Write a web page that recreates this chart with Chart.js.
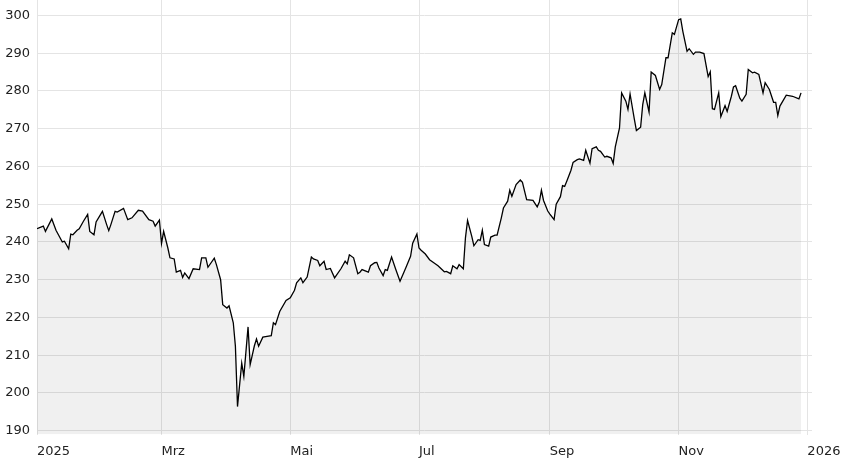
<!DOCTYPE html>
<html>
<head>
<meta charset="utf-8">
<script src="https://cdn.jsdelivr.net/npm/chart.js@4/dist/chart.umd.min.js"></script>
<style>
  html, body { margin: 0; padding: 0; background: #fff; }
  #wrap { width: 848px; height: 460px; }
</style>
</head>
<body>
<div id="wrap"><canvas id="myChart" width="848" height="460"></canvas></div>
<script>
// day of year 2025 (0 = 1. Jan) for each close
const days = [
  0, 3, 4, 7, 9, 12, 13, 15, 16, 17, 19, 20, 22, 24, 25, 27, 28, 31, 33, 34,
  35, 37, 38, 41, 43, 45, 48, 50, 53, 55, 56, 58, 59, 60, 62, 63, 65, 66, 68, 69,
  70, 72, 74, 77, 78, 80, 81, 84, 85, 87, 88, 90, 91, 93, 94, 95, 97, 98, 100, 101,
  103, 104, 105, 107, 109, 111, 112, 113, 115, 118, 120, 122, 123, 125, 126, 128, 130, 131, 133, 134,
  136, 137, 139, 141, 144, 146, 147, 148, 150, 152, 153, 154, 157, 158, 160, 161, 162, 164, 165, 166,
  168, 170, 172, 174, 175, 177, 178, 180, 181, 182, 184, 186, 188, 190, 193, 194, 196, 197, 199, 200,
  202, 203, 204, 206, 207, 209, 210, 211, 212, 214, 215, 217, 218, 220, 221, 223, 224, 225, 227, 229,
  230, 232, 235, 237, 238, 239, 240, 242, 243, 245, 246, 248, 249, 250, 251, 253, 254, 256, 257, 259,
  260, 262, 263, 265, 266, 267, 269, 270, 272, 273, 274, 276, 277, 279, 280, 281, 283, 284, 286, 287,
  288, 290, 291, 293, 295, 296, 298, 299, 301, 302, 304, 305, 306, 308, 309, 311, 312, 314, 316, 318,
  319, 320, 321, 323, 324, 326, 327, 329, 330, 331, 333, 334, 336, 337, 339, 340, 342, 344, 345, 347,
  349, 350, 351, 352, 355, 358, 361, 362
]

const closes = [
  243.5, 244.2, 242.8, 246.1, 243.1, 240.0, 240.2, 238.2, 242.1, 241.9, 243.1, 243.5, 245.5, 247.3, 242.8, 241.9, 245.3, 248.1, 244.6, 243.0,
  244.6, 248.1, 247.9, 248.9, 245.9, 246.4, 248.4, 248.2, 245.9, 245.5, 244.2, 245.8, 239.6, 242.8, 238.4, 235.8, 235.5, 232.0, 232.5, 230.6,
  231.8, 230.3, 232.9, 232.7, 235.8, 235.8, 233.3, 235.7, 234.0, 230.0, 223.4, 222.5, 223.1, 218.6, 212.4, 196.4, 207.9, 204.4, 217.5, 207.5,
  212.5, 214.3, 212.4, 214.8, 215.0, 215.2, 218.6, 218.1, 221.6, 224.5, 225.2, 227.2, 229.2, 230.5, 229.2, 230.7, 236.0, 235.5, 235.1, 233.7,
  234.9, 232.7, 233.0, 230.5, 232.9, 234.9, 234.2, 236.6, 235.8, 231.6, 232.0, 232.7, 232.0, 233.7, 234.5, 234.6, 233.1, 231.1, 232.7, 232.5,
  236.0, 232.7, 229.6, 232.2, 233.5, 236.2, 239.7, 242.1, 238.4, 237.8, 236.8, 235.3, 234.5, 233.7, 232.1, 232.2, 231.6, 233.7, 232.9, 234.0,
  232.9, 241.1, 245.7, 241.5, 239.0, 240.6, 240.4, 243.1, 239.3, 238.9, 241.3, 241.8, 241.8, 246.4, 249.0, 250.8, 253.7, 252.1, 255.2, 256.4,
  255.8, 251.2, 251.0, 249.3, 250.6, 253.7, 251.0, 248.2, 247.4, 245.9, 250.0, 252.0, 254.9, 254.7, 256.1, 259.0, 261.1, 261.8, 262.0, 261.6,
  264.3, 260.9, 264.7, 265.2, 264.3, 264.0, 262.5, 262.7, 262.3, 260.8, 265.2, 270.2, 279.5, 277.3, 275.1, 279.2, 272.6, 269.5, 270.4, 276.4,
  279.5, 274.4, 285.0, 284.1, 280.4, 281.7, 288.8, 288.8, 295.4, 295.0, 298.9, 299.1, 295.8, 290.5, 291.2, 289.7, 290.3, 290.3, 289.9, 283.8,
  285.1, 275.3, 275.1, 279.5, 273.2, 276.1, 274.6, 278.6, 281.1, 281.4, 278.1, 277.3, 279.1, 285.7, 284.8, 285.0, 284.4, 279.5, 282.2, 280.4,
  277.0, 277.0, 273.5, 276.0, 278.9, 278.6, 277.9, 279.5
]

// month starts (day of year) and their labels
const monthTicks = [0, 59, 120, 181, 243, 304, 365]
const monthLabels = ['2025', 'Mrz', 'Mai', 'Jul', 'Sep', 'Nov', '2026']

const yTicks = [190, 200, 210, 220, 230, 240, 250, 260, 270, 280, 290, 300]

Chart.defaults.font.family = '"DejaVu Sans", Verdana, sans-serif'
Chart.defaults.font.size = 13
Chart.defaults.color = '#222'

const points = days.map((d, i) => ({ x: d, y: closes[i] }))

const ctx = document.getElementById('myChart').getContext('2d')

const config = {
  type: 'line',
  data: {
    datasets: [{
      data: points,
      borderColor: '#000',
      borderWidth: 1.3,
      backgroundColor: 'rgba(0,0,0,0.058)',
      fill: 'start',
      pointRadius: 0,
      tension: 0
    }]
  },
  options: {
    responsive: false,
    animation: false,
    layout: { padding: { top: 0, right: 36, bottom: 0, left: 0 } },
    plugins: {
      legend: { display: false },
      tooltip: { enabled: false }
    },
    scales: {
      x: {
        type: 'linear',
        min: 0,
        max: 367.2,
        afterBuildTicks: (scale) => {
          scale.ticks = monthTicks.map(v => ({ value: v }))
        },
        afterFit: (scale) => {
          scale.height = 25.5
          scale.paddingLeft = 0
          scale.paddingRight = 0
        },
        ticks: {
          autoSkip: false,
          maxRotation: 0,
          align: 'start',
          padding: 9,
          callback: (value, index) => monthLabels[index]
        },
        grid: { color: '#e4e4e4', drawTicks: false },
        border: { display: false }
      },
      y: {
        position: 'left',
        min: 189,
        max: 304.1,
        afterBuildTicks: (scale) => {
          scale.ticks = yTicks.map(v => ({ value: v }))
        },
        afterFit: (scale) => {
          scale.width = 37
          scale.paddingTop = 0
          scale.paddingBottom = 0
        },
        ticks: {
          padding: 7,
          callback: (value) => value
        },
        grid: { color: '#e4e4e4', drawTicks: false },
        border: { display: false }
      }
    }
  }
}

new Chart(ctx, config)
</script>
</body>
</html>
